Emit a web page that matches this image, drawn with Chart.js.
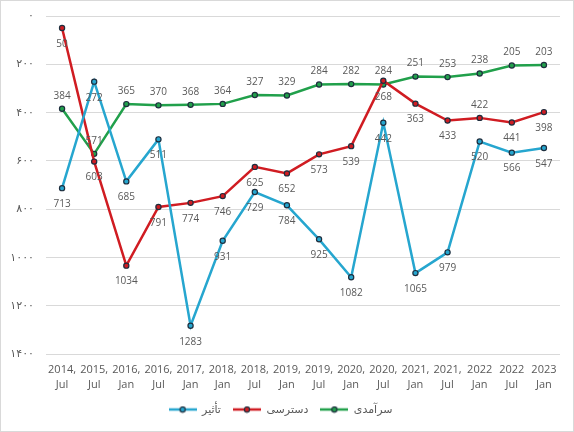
<!DOCTYPE html>
<html lang="en">
<head>
    <meta charset="UTF-8">
    <title>Rank chart</title>
    <script src="https://cdn.jsdelivr.net/npm/chart.js"></script>
    <style>
        html, body { margin: 0; padding: 0; background: #fff; }
        .chart-box {
            width: 572px;
            height: 430px;
            border: 1px solid #d9d9d9;
        }
    </style>
</head>
<body>
    <div class="chart-box">
        <canvas id="rankChart" width="572" height="430"></canvas>
    </div>

    <script>
        const periods = [
            ['2014,', 'Jul'], ['2015,', 'Jul'], ['2016,', 'Jan'], ['2016,', 'Jul'],
            ['2017,', 'Jan'], ['2018,', 'Jan'], ['2018,', 'Jul'], ['2019,', 'Jan'],
            ['2019,', 'Jul'], ['2020,', 'Jan'], ['2020,', 'Jul'], ['2021,', 'Jan'],
            ['2021,', 'Jul'], ['2022', 'Jan'], ['2022', 'Jul'], ['2023', 'Jan']
        ];
        const impact = [713, 272, 685, 511, 1283, 931, 729, 784, 925, 1082, 442, 1065, 979, 520, 566, 547];
        const access = [50, 603, 1034, 791, 774, 746, 625, 652, 573, 539, 268, 363, 433, 422, 441, 398];
        const excellence = [384, 571, 365, 370, 368, 364, 327, 329, 284, 282, 284, 251, 253, 238, 205, 203];
        const seriesNames = ['تأثیر', 'دسترسی', 'سرآمدی'];
        const yTicks = [0, 200, 400, 600, 800, 1000, 1200, 1400];

        const colors = ['#26a6cf', '#d01c22', '#21a04b'];
        const fontFamily = "'Open Sans', 'DejaVu Sans', sans-serif";
        const textColor = '#595959';

        function toPersian(n) {
            return String(n).replace(/\d/g, d => '۰۱۲۳۴۵۶۷۸۹'[d]);
        }

        // legend marker: short line with a dot in the middle
        function legendMarker(color) {
            const c = document.createElement('canvas');
            c.width = 28;
            c.height = 8;
            const g = c.getContext('2d');
            g.strokeStyle = color;
            g.lineWidth = 2.5;
            g.beginPath();
            g.moveTo(0, 4);
            g.lineTo(28, 4);
            g.stroke();
            g.fillStyle = color;
            g.strokeStyle = '#1e2e3e';
            g.lineWidth = 1.2;
            g.beginPath();
            g.arc(14, 4, 2.6, 0, Math.PI * 2);
            g.fill();
            g.stroke();
            return c;
        }

        const valueLabels = {
            id: 'valueLabels',
            afterDatasetsDraw(chart) {
                const ctx = chart.ctx;
                ctx.save();
                ctx.font = '10px ' + fontFamily;
                ctx.fillStyle = textColor;
                ctx.textAlign = 'center';
                ctx.textBaseline = 'middle';
                chart.data.datasets.forEach((ds, di) => {
                    const meta = chart.getDatasetMeta(di);
                    meta.data.forEach((pt, i) => {
                        const above = ds.labelAbove(i);
                        const y = above ? pt.y - 13 : pt.y + 16;
                        ctx.fillText(String(ds.data[i]), pt.x, y);
                    });
                });
                ctx.restore();
            }
        };

        function makeDataset(name, values, color, labelAbove) {
            return {
                label: name,
                data: values,
                borderColor: color,
                backgroundColor: color,
                borderWidth: 2.5,
                pointRadius: 2.6,
                pointBorderWidth: 1.2,
                pointBorderColor: '#1e2e3e',
                pointBackgroundColor: color,
                pointStyle: 'circle',
                tension: 0,
                labelAbove: labelAbove
            };
        }

        const ctx = document.getElementById('rankChart').getContext('2d');
        new Chart(ctx, {
            type: 'line',
            data: {
                labels: periods,
                datasets: [
                    makeDataset(seriesNames[0], impact, colors[0], () => false),
                    makeDataset(seriesNames[1], access, colors[1], i => i === 13),
                    makeDataset(seriesNames[2], excellence, colors[2], () => true)
                ]
            },
            options: {
                responsive: false,
                animation: false,
                layout: {
                    padding: { top: 15, right: 13, bottom: 6, left: 0 }
                },
                plugins: {
                    tooltip: { enabled: false },
                    legend: {
                        position: 'bottom',
                        labels: {
                            usePointStyle: true,
                            pointStyleWidth: 28,
                            padding: 12,
                            color: textColor,
                            font: { family: fontFamily, size: 11 },
                            generateLabels(chart) {
                                return chart.data.datasets.map((ds, i) => ({
                                    text: ds.label,
                                    pointStyle: legendMarker(colors[i]),
                                    fillStyle: colors[i],
                                    strokeStyle: colors[i],
                                    lineWidth: 0,
                                    fontColor: textColor,
                                    datasetIndex: i
                                }));
                            }
                        }
                    }
                },
                scales: {
                    x: {
                        offset: true,
                        grid: { display: false },
                        border: { display: false },
                        ticks: {
                            color: textColor,
                            padding: 0,
                            maxRotation: 0,
                            autoSkip: false,
                            font: { family: fontFamily, size: 11, lineHeight: 1.4 }
                        },
                        afterFit(scale) { scale.height = 38; }
                    },
                    y: {
                        reverse: true,
                        min: yTicks[0],
                        max: yTicks[yTicks.length - 1],
                        afterBuildTicks(scale) {
                            scale.ticks = yTicks.map(v => ({ value: v }));
                        },
                        grid: {
                            color: '#d9d9d9',
                            drawTicks: true,
                            tickLength: 12,
                            tickColor: 'rgba(0,0,0,0)'
                        },
                        border: { display: false },
                        ticks: {
                            color: textColor,
                            padding: 0,
                            font: { family: fontFamily, size: 11 },
                            callback: v => toPersian(v)
                        },
                        afterFit(scale) { scale.width = 45; }
                    }
                }
            },
            plugins: [valueLabels]
        });
    </script>
</body>
</html>
